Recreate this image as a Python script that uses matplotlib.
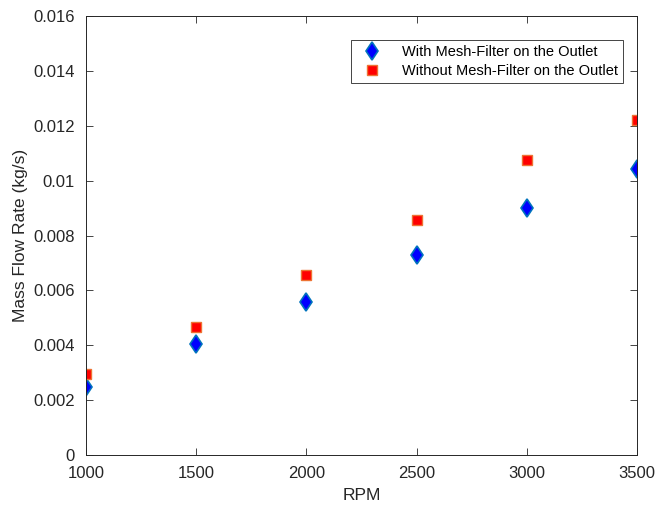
import numpy as np
import matplotlib.pyplot as plt

plt.rcParams['font.family'] = ['Liberation Sans', 'DejaVu Sans']

rpm = [1000, 1500, 2000, 2500, 3000, 3500]
with_filter = [0.00247, 0.00403, 0.00556, 0.00730, 0.00902, 0.01044]
without_filter = [0.00294, 0.00468, 0.00657, 0.00856, 0.01076, 0.01220]

dark = (0.15, 0.15, 0.15)

fig = plt.figure(figsize=(6.57, 5.08), dpi=100)
ax = fig.add_axes([86/657, 1-455/508, (637-86)/657, (455-16)/508])

ax.plot(rpm, with_filter, 'd', ms=9.5, mfc=(0, 0, 1), mec=(0, 0.45, 0.74), mew=1.2,
        label='With Mesh-Filter on the Outlet')
ax.plot(rpm, without_filter, 's', ms=7, mfc=(1, 0, 0), mec=(0.93, 0.45, 0.2), mew=1.0,
        label='Without Mesh-Filter on the Outlet')

ax.set_xlim(1000, 3500)
ax.set_ylim(0, 0.016)
ax.set_xticks(np.arange(1000, 3501, 500))
ax.set_yticks(np.arange(0, 0.0161, 0.002))
ax.set_yticklabels(['0', '0.002', '0.004', '0.006', '0.008', '0.01', '0.012', '0.014', '0.016'])
ax.tick_params(direction='in', top=True, right=True, length=5, width=0.6,
               labelsize=12, colors=dark, pad=8)
for s in ax.spines.values():
    s.set_linewidth(0.7)
    s.set_color(dark)

ax.set_xlabel('RPM', fontsize=12.5, color=dark, labelpad=5)
ax.set_ylabel('Mass Flow Rate (kg/s)', fontsize=12.5, color=dark, labelpad=4)

leg = ax.legend(loc='upper left', bbox_to_anchor=(344/657, 1-33/508), bbox_transform=fig.transFigure,
                fontsize=10.5, fancybox=False, framealpha=1, edgecolor=dark,
                borderpad=0.35, handletextpad=0.9, labelspacing=0.3, handlelength=2.2)
leg.get_frame().set_linewidth(0.6)

fig.savefig('out.png', dpi=100)
